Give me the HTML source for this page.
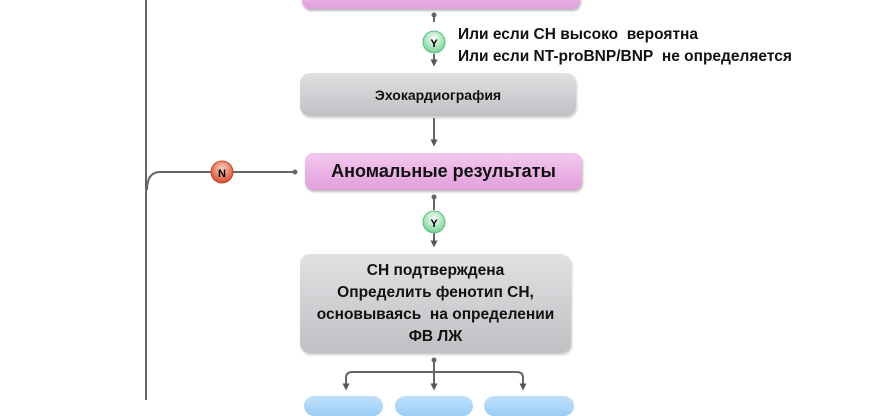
<!DOCTYPE html>
<html><head><meta charset="utf-8"><style>
body{margin:0;width:870px;height:400px;background:#fff;overflow:hidden;position:relative;font-family:"Liberation Sans",sans-serif}
.b{position:absolute;box-sizing:border-box;display:flex;align-items:center;justify-content:center;text-align:center;font-weight:bold;color:#111}
.pink{background:linear-gradient(#f3c8ef,#e29fdc);border-radius:8px;box-shadow:1px 2px 2px #bbb}
.gray{background:linear-gradient(#e0e1e3,#bfc0c3);border-radius:10px;box-shadow:1px 2px 2px #ccc}
.blue{background:linear-gradient(#bfe0fb,#9ccdf5);border-radius:10px}
.t{position:absolute;font-weight:bold;font-size:15.5px;color:#111}
</style></head><body>
<div class="b pink" style="left:302px;top:-20px;width:278px;height:29px"></div>
<div class="b gray" style="left:300px;top:73px;width:276px;height:43px;font-size:14px">Эхокардиография</div>
<div class="b pink" style="left:305px;top:153px;width:277px;height:37px;font-size:18px">Аномальные результаты</div>
<div class="b gray" style="left:300px;top:254px;width:271px;height:99px;font-size:15.5px;line-height:22px">СН подтверждена<br>Определить фенотип СН,<br>основываясь&nbsp; на определении<br>ФВ ЛЖ</div>
<div class="b blue" style="left:304px;top:396px;width:79px;height:20px"></div>
<div class="b blue" style="left:395px;top:396px;width:78px;height:20px"></div>
<div class="b blue" style="left:484px;top:396px;width:90px;height:20px"></div>
<div class="t" style="left:458px;top:24px;line-height:22px">Или если СН высоко&nbsp; вероятна<br>Или если NT-proBNP/BNP&nbsp; не определяется</div>
<svg width="870" height="400" style="position:absolute;left:0;top:0">
<defs><marker id="a" markerUnits="userSpaceOnUse" markerWidth="7" markerHeight="7" refX="3.5" refY="3.5" orient="auto"><path d="M0,0L7,3.5L0,7z" fill="#555"/></marker>
<radialGradient id="g" cx="50%" cy="35%" r="60%"><stop offset="0" stop-color="#fff"/><stop offset="1" stop-color="#7fd49a"/></radialGradient>
<radialGradient id="r" cx="50%" cy="35%" r="60%"><stop offset="0" stop-color="#fbd0c0"/><stop offset="1" stop-color="#d9553a"/></radialGradient></defs>
<g stroke="#666" stroke-width="2" fill="none">
<line x1="146" y1="0" x2="146" y2="400"/>
<path d="M147,190 Q147,172 160,172 L295,172"/>
<line x1="434" y1="14" x2="434" y2="22"/>
<line x1="434" y1="54" x2="434" y2="63" marker-end="url(#a)"/>
<line x1="434" y1="118" x2="434" y2="143" marker-end="url(#a)"/>
<line x1="434" y1="196" x2="434" y2="210"/>
<line x1="434" y1="233" x2="434" y2="244" marker-end="url(#a)"/>
<line x1="434" y1="360" x2="434" y2="387" marker-end="url(#a)"/>
<path d="M346,386 L346,378 Q346,372 352,372 L517,372 Q523,372 523,378 L523,387" marker-end="url(#a)"/>
<path d="M346,380 L346,387" marker-end="url(#a)"/>
</g>
<circle cx="295" cy="172" r="2.5" fill="#666"/><circle cx="434" cy="15" r="2.5" fill="#666"/><circle cx="434" cy="197" r="2.5" fill="#666"/><circle cx="434" cy="360" r="2.5" fill="#666"/>
<circle cx="434" cy="42" r="11" fill="url(#g)" stroke="#5cbf7c"/><text x="434" y="47" font-size="11" font-weight="bold" text-anchor="middle" font-family="Liberation Sans">Y</text>
<circle cx="434" cy="222" r="11" fill="url(#g)" stroke="#5cbf7c"/><text x="434" y="227" font-size="11" font-weight="bold" text-anchor="middle" font-family="Liberation Sans">Y</text>
<circle cx="222" cy="172" r="11" fill="url(#r)" stroke="#c4442a"/><text x="222" y="177" font-size="11" font-weight="bold" text-anchor="middle" font-family="Liberation Sans">N</text>
</svg>
</body></html>
